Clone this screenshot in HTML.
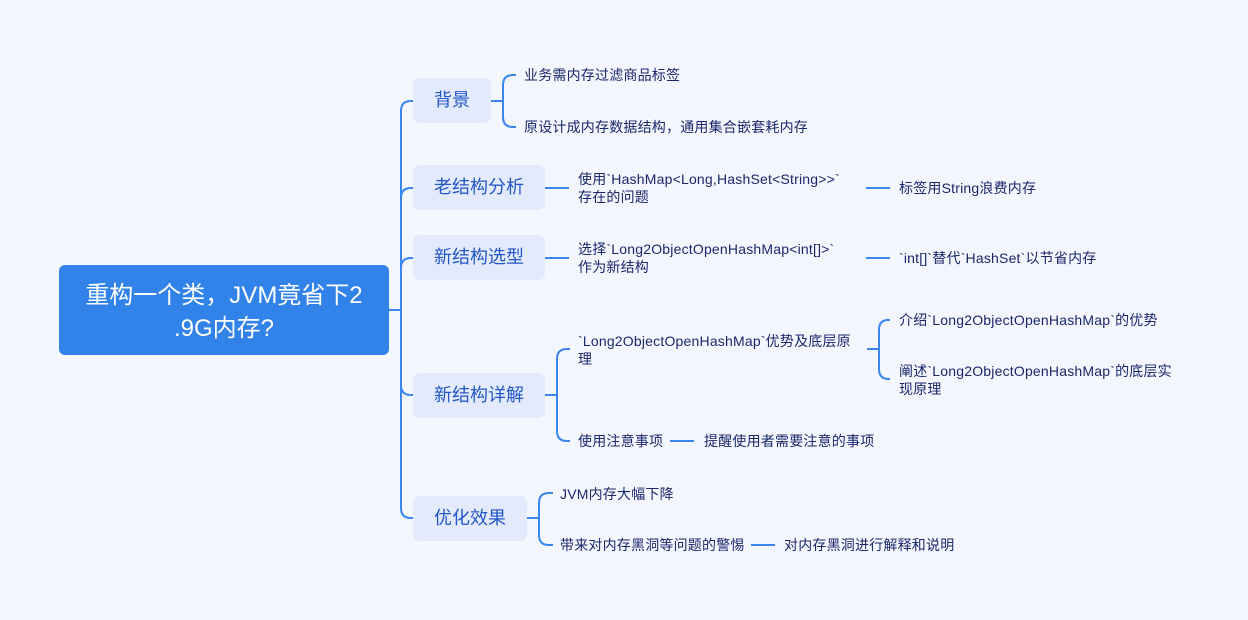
<!DOCTYPE html>
<html>
<head>
<meta charset="utf-8">
<style>
  html, body { margin:0; padding:0; }
  body { width:1248px; height:620px; background:#F4F6FD; position:relative; overflow:hidden;
    font-family:"Liberation Sans","Noto Sans CJK SC",sans-serif; }
  .root { position:absolute; left:59px; top:265px; width:330px; height:90px; background:#3182E9;
    border-radius:6px; color:#fff; font-size:24px; line-height:33px; text-align:center;
    box-sizing:border-box; padding-top:14px; }
  .l1 { position:absolute; left:413px; height:45px; background:#E2EAFB; border-radius:7px;
    color:#2457C6; font-size:18px; line-height:45px; text-align:center; }
  .t { position:absolute; font-size:14px; line-height:18px; color:#1A276A; white-space:nowrap; letter-spacing:0.2px; }
  svg { position:absolute; left:0; top:0; }
</style>
</head>
<body>
<svg width="1248" height="620" viewBox="0 0 1248 620" fill="none" stroke="#3A86EC" stroke-width="2">
  <path d="M389,310 H401"/>
  <path d="M413,101 H411 Q401,101 401,111 V508 Q401,518 411,518 H413"/>
  <path d="M401,198 Q401,188 411,188 H413"/>
  <path d="M401,268 Q401,258 411,258 H413"/>
  <path d="M401,385 Q401,395 411,395 H413"/>
  <path d="M491,101 H503"/>
  <path d="M516,75 H513 Q503,75 503,85 V117 Q503,127 513,127 H516"/>
  <path d="M545,188 H569"/>
  <path d="M866,188 H890"/>
  <path d="M545,258 H569"/>
  <path d="M866,258 H890"/>
  <path d="M545,395 H557"/>
  <path d="M570,349 H567 Q557,349 557,359 V431 Q557,441 567,441 H570"/>
  <path d="M867,349 H879"/>
  <path d="M890,320 H888 Q879,320 879,330 V369 Q879,379 889,379 H890"/>
  <path d="M670,441 H694"/>
  <path d="M527,518 H539"/>
  <path d="M553,493 H549 Q539,493 539,503 V535 Q539,545 549,545 H553"/>
  <path d="M751,545 H775"/>
</svg>

<div class="root">重构一个类，JVM竟省下2<br>.9G内存?</div>

<div class="l1" style="top:78px;width:78px;">背景</div>
<div class="l1" style="top:165px;width:132px;">老结构分析</div>
<div class="l1" style="top:235px;width:132px;">新结构选型</div>
<div class="l1" style="top:373px;width:132px;">新结构详解</div>
<div class="l1" style="top:496px;width:114px;">优化效果</div>

<div class="t" style="left:524px;top:66px;">业务需内存过滤商品标签</div>
<div class="t" style="left:524px;top:118px;">原设计成内存数据结构，通用集合嵌套耗内存</div>

<div class="t" style="left:578px;top:170px;">使用`HashMap&lt;Long,HashSet&lt;String&gt;&gt;`<br>存在的问题</div>
<div class="t" style="left:899px;top:179px;">标签用String浪费内存</div>

<div class="t" style="left:578px;top:240px;">选择`Long2ObjectOpenHashMap&lt;int[]&gt;`<br>作为新结构</div>
<div class="t" style="left:899px;top:249px;">`int[]`替代`HashSet`以节省内存</div>

<div class="t" style="left:578px;top:332px;">`Long2ObjectOpenHashMap`优势及底层原<br>理</div>
<div class="t" style="left:899px;top:311px;">介绍`Long2ObjectOpenHashMap`的优势</div>
<div class="t" style="left:899px;top:362px;">阐述`Long2ObjectOpenHashMap`的底层实<br>现原理</div>
<div class="t" style="left:578px;top:432px;">使用注意事项</div>
<div class="t" style="left:704px;top:432px;">提醒使用者需要注意的事项</div>

<div class="t" style="left:560px;top:485px;">JVM内存大幅下降</div>
<div class="t" style="left:560px;top:536px;">带来对内存黑洞等问题的警惕</div>
<div class="t" style="left:784px;top:536px;">对内存黑洞进行解释和说明</div>
</body>
</html>
